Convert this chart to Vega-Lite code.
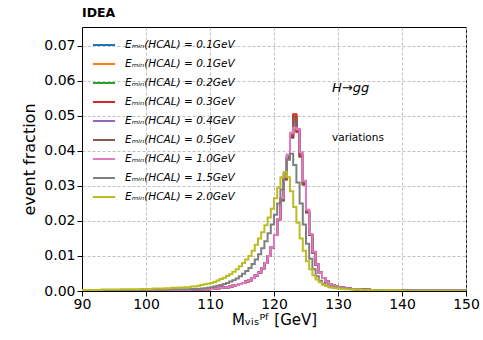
{
  "$schema": "https://vega.github.io/schema/vega-lite/v6.json",
  "width": 384,
  "height": 264,
  "autosize": "none",
  "padding": {"left": 82, "top": 27, "right": 17, "bottom": 49},
  "title": {"text": "IDEA", "anchor": "start", "frame": "group", "fontSize": 12.5, "fontWeight": "bold", "font": "DejaVu Sans", "color": "black", "offset": 8},
  "config": {
    "font": "DejaVu Sans",
    "view": {"stroke": "black", "strokeWidth": 1}
  },
  "encoding": {
    "x": {"field": "x", "type": "quantitative",
      "scale": {"domain": [90, 150], "nice": false, "zero": false},
      "axis": {"values": [90,100,110,120,130,140,150], "title": "Mᵥᵢₛᴾᶠ [GeV]", "titlePadding": 1,
        "labelFontSize": 14, "titleFontSize": 15, "labelColor": "black", "titleColor": "black",
        "titleFontWeight": "normal", "tickColor": "black", "domainColor": "black", "tickSize": 5,
        "labelPadding": 1, "labelOverlap": false, "labelFlush": false, "grid": true, "gridColor": "#b0b0b0", "gridDash": [3, 2], "gridWidth": 0.8}},
    "y": {"field": "v", "type": "quantitative",
      "scale": {"domain": [0, 0.0754], "nice": false},
      "axis": {"values": [0,0.01,0.02,0.03,0.04,0.05,0.06,0.07], "format": ".2f", "title": "event fraction", "titlePadding": 6,
        "labelFontSize": 14, "titleFontSize": 16, "labelColor": "black", "titleColor": "black",
        "titleFontWeight": "normal", "tickColor": "black", "domainColor": "black", "tickSize": 5,
        "labelPadding": 2, "labelOverlap": false, "labelFlush": false, "grid": true, "gridColor": "#b0b0b0", "gridDash": [3, 2], "gridWidth": 0.8}}
  },
  "layer": [
    {
      "data": {"values": [
        {"x":90,"a":0.0001,"b":0.0001,"c":0.0001,"d":0.0001,"e":0.0001,"f":0.0001,"g":0.0001,"h":0.0002,"i":0.0003},
        {"x":91,"a":0.0001,"b":0.0001,"c":0.0001,"d":0.0001,"e":0.0001,"f":0.0001,"g":0.0001,"h":0.0002,"i":0.0003},
        {"x":92,"a":0.0001,"b":0.0001,"c":0.0001,"d":0.0001,"e":0.0001,"f":0.0001,"g":0.0001,"h":0.0002,"i":0.0003},
        {"x":93,"a":0.0001,"b":0.0001,"c":0.0001,"d":0.0001,"e":0.0001,"f":0.0001,"g":0.0001,"h":0.0002,"i":0.0004},
        {"x":94,"a":0.0001,"b":0.0001,"c":0.0001,"d":0.0001,"e":0.0001,"f":0.0001,"g":0.0001,"h":0.0003,"i":0.0004},
        {"x":95,"a":0.0001,"b":0.0001,"c":0.0001,"d":0.0001,"e":0.0001,"f":0.0001,"g":0.0001,"h":0.0003,"i":0.0004},
        {"x":96,"a":0.0001,"b":0.0001,"c":0.0001,"d":0.0001,"e":0.0001,"f":0.0001,"g":0.0001,"h":0.0003,"i":0.0005},
        {"x":97,"a":0.0001,"b":0.0001,"c":0.0001,"d":0.0001,"e":0.0001,"f":0.0001,"g":0.0001,"h":0.0003,"i":0.0005},
        {"x":98,"a":0.0002,"b":0.0002,"c":0.0002,"d":0.0002,"e":0.0002,"f":0.0002,"g":0.0002,"h":0.0003,"i":0.0005},
        {"x":99,"a":0.0002,"b":0.0002,"c":0.0002,"d":0.0002,"e":0.0002,"f":0.0002,"g":0.0002,"h":0.0003,"i":0.0006},
        {"x":100,"a":0.0002,"b":0.0002,"c":0.0002,"d":0.0002,"e":0.0002,"f":0.0002,"g":0.0002,"h":0.0004,"i":0.0006},
        {"x":101,"a":0.0002,"b":0.0002,"c":0.0002,"d":0.0002,"e":0.0002,"f":0.0002,"g":0.0002,"h":0.0004,"i":0.0007},
        {"x":102,"a":0.0002,"b":0.0002,"c":0.0002,"d":0.0002,"e":0.0002,"f":0.0002,"g":0.0002,"h":0.0004,"i":0.0007},
        {"x":103,"a":0.0002,"b":0.0002,"c":0.0002,"d":0.0002,"e":0.0002,"f":0.0002,"g":0.0002,"h":0.0004,"i":0.0008},
        {"x":104,"a":0.0003,"b":0.0003,"c":0.0003,"d":0.0003,"e":0.0003,"f":0.0003,"g":0.0003,"h":0.0005,"i":0.0009},
        {"x":105,"a":0.0003,"b":0.0003,"c":0.0003,"d":0.0003,"e":0.0003,"f":0.0003,"g":0.0003,"h":0.0005,"i":0.0010},
        {"x":106,"a":0.0003,"b":0.0003,"c":0.0003,"d":0.0003,"e":0.0003,"f":0.0003,"g":0.0003,"h":0.0005,"i":0.0011},
        {"x":107,"a":0.0004,"b":0.0004,"c":0.0004,"d":0.0004,"e":0.0004,"f":0.0004,"g":0.0004,"h":0.0006,"i":0.0013},
        {"x":108,"a":0.0004,"b":0.0004,"c":0.0004,"d":0.0004,"e":0.0004,"f":0.0004,"g":0.0004,"h":0.0006,"i":0.0015},
        {"x":108.5,"a":0.0004,"b":0.0004,"c":0.0004,"d":0.0004,"e":0.0004,"f":0.0004,"g":0.0004,"h":0.0007,"i":0.0017},
        {"x":109,"a":0.0005,"b":0.0005,"c":0.0005,"d":0.0005,"e":0.0005,"f":0.0005,"g":0.0005,"h":0.0008,"i":0.0019},
        {"x":109.5,"a":0.0005,"b":0.0005,"c":0.0005,"d":0.0005,"e":0.0005,"f":0.0005,"g":0.0005,"h":0.0009,"i":0.0021},
        {"x":110,"a":0.0006,"b":0.0006,"c":0.0006,"d":0.0006,"e":0.0006,"f":0.0006,"g":0.0006,"h":0.0011,"i":0.0023},
        {"x":110.5,"a":0.0007,"b":0.0007,"c":0.0007,"d":0.0007,"e":0.0007,"f":0.0007,"g":0.0007,"h":0.0013,"i":0.0026},
        {"x":111,"a":0.0008,"b":0.0008,"c":0.0008,"d":0.0008,"e":0.0008,"f":0.0008,"g":0.0008,"h":0.0015,"i":0.0030},
        {"x":111.5,"a":0.0009,"b":0.0009,"c":0.0009,"d":0.0009,"e":0.0009,"f":0.0009,"g":0.0009,"h":0.0017,"i":0.0034},
        {"x":112,"a":0.0010,"b":0.0010,"c":0.0010,"d":0.0010,"e":0.0010,"f":0.0010,"g":0.0010,"h":0.0020,"i":0.0038},
        {"x":112.5,"a":0.0011,"b":0.0011,"c":0.0011,"d":0.0011,"e":0.0011,"f":0.0011,"g":0.0011,"h":0.0023,"i":0.0043},
        {"x":113,"a":0.0013,"b":0.0013,"c":0.0013,"d":0.0013,"e":0.0013,"f":0.0013,"g":0.0013,"h":0.0027,"i":0.0048},
        {"x":113.5,"a":0.0015,"b":0.0015,"c":0.0015,"d":0.0015,"e":0.0015,"f":0.0015,"g":0.0015,"h":0.0031,"i":0.0055},
        {"x":114,"a":0.0017,"b":0.0017,"c":0.0017,"d":0.0017,"e":0.0017,"f":0.0017,"g":0.0017,"h":0.0036,"i":0.0062},
        {"x":114.5,"a":0.0020,"b":0.0020,"c":0.0020,"d":0.0020,"e":0.0020,"f":0.0020,"g":0.0020,"h":0.0042,"i":0.0071},
        {"x":115,"a":0.0023,"b":0.0023,"c":0.0023,"d":0.0023,"e":0.0023,"f":0.0023,"g":0.0023,"h":0.0049,"i":0.0080},
        {"x":115.5,"a":0.0027,"b":0.0027,"c":0.0027,"d":0.0027,"e":0.0027,"f":0.0027,"g":0.0027,"h":0.0057,"i":0.0090},
        {"x":116,"a":0.0031,"b":0.0031,"c":0.0031,"d":0.0031,"e":0.0031,"f":0.0031,"g":0.0031,"h":0.0066,"i":0.0100},
        {"x":116.5,"a":0.0037,"b":0.0037,"c":0.0037,"d":0.0037,"e":0.0037,"f":0.0037,"g":0.0037,"h":0.0077,"i":0.0115},
        {"x":117,"a":0.0044,"b":0.0044,"c":0.0044,"d":0.0044,"e":0.0044,"f":0.0044,"g":0.0044,"h":0.0090,"i":0.0132},
        {"x":117.5,"a":0.0053,"b":0.0053,"c":0.0053,"d":0.0053,"e":0.0053,"f":0.0053,"g":0.0053,"h":0.0105,"i":0.0150},
        {"x":118,"a":0.0065,"b":0.0065,"c":0.0065,"d":0.0065,"e":0.0065,"f":0.0065,"g":0.0065,"h":0.0122,"i":0.0168},
        {"x":118.5,"a":0.0080,"b":0.0080,"c":0.0080,"d":0.0080,"e":0.0080,"f":0.0080,"g":0.0080,"h":0.0142,"i":0.0188},
        {"x":119,"a":0.0100,"b":0.0100,"c":0.0100,"d":0.0100,"e":0.0100,"f":0.0100,"g":0.0100,"h":0.0165,"i":0.0210},
        {"x":119.5,"a":0.0125,"b":0.0125,"c":0.0125,"d":0.0125,"e":0.0125,"f":0.0125,"g":0.0125,"h":0.0190,"i":0.0235},
        {"x":120,"a":0.0160,"b":0.0160,"c":0.0160,"d":0.0160,"e":0.0160,"f":0.0160,"g":0.0160,"h":0.0218,"i":0.0265},
        {"x":120.5,"a":0.0205,"b":0.0205,"c":0.0205,"d":0.0205,"e":0.0205,"f":0.0205,"g":0.0205,"h":0.0250,"i":0.0295},
        {"x":121,"a":0.0260,"b":0.0260,"c":0.0258,"d":0.0260,"e":0.0262,"f":0.0261,"g":0.0265,"h":0.0290,"i":0.0325},
        {"x":121.5,"a":0.0320,"b":0.0321,"c":0.0318,"d":0.0320,"e":0.0325,"f":0.0322,"g":0.0328,"h":0.0335,"i":0.0340},
        {"x":122,"a":0.0378,"b":0.0379,"c":0.0381,"d":0.0380,"e":0.0385,"f":0.0382,"g":0.0390,"h":0.0375,"i":0.0325},
        {"x":122.5,"a":0.0438,"b":0.0441,"c":0.0442,"d":0.0440,"e":0.0450,"f":0.0445,"g":0.0452,"h":0.0392,"i":0.0285},
        {"x":123,"a":0.0498,"b":0.0500,"c":0.0497,"d":0.0505,"e":0.0482,"f":0.0490,"g":0.0466,"h":0.0360,"i":0.0240},
        {"x":123.5,"a":0.0458,"b":0.0455,"c":0.0457,"d":0.0455,"e":0.0462,"f":0.0460,"g":0.0462,"h":0.0310,"i":0.0195},
        {"x":124,"a":0.0385,"b":0.0386,"c":0.0384,"d":0.0385,"e":0.0390,"f":0.0388,"g":0.0396,"h":0.0250,"i":0.0150},
        {"x":124.5,"a":0.0305,"b":0.0306,"c":0.0304,"d":0.0305,"e":0.0310,"f":0.0308,"g":0.0315,"h":0.0190,"i":0.0115},
        {"x":125,"a":0.0225,"b":0.0225,"c":0.0225,"d":0.0225,"e":0.0228,"f":0.0226,"g":0.0232,"h":0.0135,"i":0.0085},
        {"x":125.5,"a":0.0160,"b":0.0160,"c":0.0160,"d":0.0160,"e":0.0160,"f":0.0160,"g":0.0163,"h":0.0092,"i":0.0062},
        {"x":126,"a":0.0110,"b":0.0110,"c":0.0110,"d":0.0110,"e":0.0110,"f":0.0110,"g":0.0112,"h":0.0062,"i":0.0045},
        {"x":126.5,"a":0.0075,"b":0.0075,"c":0.0075,"d":0.0075,"e":0.0075,"f":0.0075,"g":0.0076,"h":0.0042,"i":0.0033},
        {"x":127,"a":0.0052,"b":0.0052,"c":0.0052,"d":0.0052,"e":0.0052,"f":0.0052,"g":0.0052,"h":0.0029,"i":0.0025},
        {"x":127.5,"a":0.0037,"b":0.0037,"c":0.0037,"d":0.0037,"e":0.0037,"f":0.0037,"g":0.0037,"h":0.0021,"i":0.0018},
        {"x":128,"a":0.0027,"b":0.0027,"c":0.0027,"d":0.0027,"e":0.0027,"f":0.0027,"g":0.0027,"h":0.0016,"i":0.0014},
        {"x":128.5,"a":0.0020,"b":0.0020,"c":0.0020,"d":0.0020,"e":0.0020,"f":0.0020,"g":0.0020,"h":0.0013,"i":0.0011},
        {"x":129,"a":0.0015,"b":0.0015,"c":0.0015,"d":0.0015,"e":0.0015,"f":0.0015,"g":0.0015,"h":0.0011,"i":0.0009},
        {"x":129.5,"a":0.0012,"b":0.0012,"c":0.0012,"d":0.0012,"e":0.0012,"f":0.0012,"g":0.0012,"h":0.0009,"i":0.0008},
        {"x":130,"a":0.0010,"b":0.0010,"c":0.0010,"d":0.0010,"e":0.0010,"f":0.0010,"g":0.0010,"h":0.0008,"i":0.0007},
        {"x":130.5,"a":0.0009,"b":0.0009,"c":0.0009,"d":0.0009,"e":0.0009,"f":0.0009,"g":0.0009,"h":0.0007,"i":0.0006},
        {"x":131,"a":0.0008,"b":0.0008,"c":0.0008,"d":0.0008,"e":0.0008,"f":0.0008,"g":0.0008,"h":0.0006,"i":0.0005},
        {"x":131.5,"a":0.0007,"b":0.0007,"c":0.0007,"d":0.0007,"e":0.0007,"f":0.0007,"g":0.0007,"h":0.0006,"i":0.0005},
        {"x":132,"a":0.0006,"b":0.0006,"c":0.0006,"d":0.0006,"e":0.0006,"f":0.0006,"g":0.0006,"h":0.0005,"i":0.0004},
        {"x":132.5,"a":0.0005,"b":0.0005,"c":0.0005,"d":0.0005,"e":0.0005,"f":0.0005,"g":0.0005,"h":0.0005,"i":0.0004},
        {"x":133,"a":0.0005,"b":0.0005,"c":0.0005,"d":0.0005,"e":0.0005,"f":0.0005,"g":0.0005,"h":0.0004,"i":0.0004},
        {"x":133.5,"a":0.0004,"b":0.0004,"c":0.0004,"d":0.0004,"e":0.0004,"f":0.0004,"g":0.0004,"h":0.0004,"i":0.0003},
        {"x":134,"a":0.0004,"b":0.0004,"c":0.0004,"d":0.0004,"e":0.0004,"f":0.0004,"g":0.0004,"h":0.0004,"i":0.0003},
        {"x":134.5,"a":0.0004,"b":0.0004,"c":0.0004,"d":0.0004,"e":0.0004,"f":0.0004,"g":0.0004,"h":0.0003,"i":0.0003},
        {"x":135,"a":0.0003,"b":0.0003,"c":0.0003,"d":0.0003,"e":0.0003,"f":0.0003,"g":0.0003,"h":0.0003,"i":0.0003},
        {"x":135.5,"a":0.0003,"b":0.0003,"c":0.0003,"d":0.0003,"e":0.0003,"f":0.0003,"g":0.0003,"h":0.0003,"i":0.0002},
        {"x":136,"a":0.0003,"b":0.0003,"c":0.0003,"d":0.0003,"e":0.0003,"f":0.0003,"g":0.0003,"h":0.0003,"i":0.0002},
        {"x":137,"a":0.0003,"b":0.0003,"c":0.0003,"d":0.0003,"e":0.0003,"f":0.0003,"g":0.0003,"h":0.0002,"i":0.0002},
        {"x":138,"a":0.0002,"b":0.0002,"c":0.0002,"d":0.0002,"e":0.0002,"f":0.0002,"g":0.0002,"h":0.0002,"i":0.0002},
        {"x":139,"a":0.0002,"b":0.0002,"c":0.0002,"d":0.0002,"e":0.0002,"f":0.0002,"g":0.0002,"h":0.0002,"i":0.0002},
        {"x":140,"a":0.0002,"b":0.0002,"c":0.0002,"d":0.0002,"e":0.0002,"f":0.0002,"g":0.0002,"h":0.0002,"i":0.0001},
        {"x":141,"a":0.0001,"b":0.0001,"c":0.0001,"d":0.0001,"e":0.0001,"f":0.0001,"g":0.0001,"h":0.0001,"i":0.0001},
        {"x":143,"a":0.0001,"b":0.0001,"c":0.0001,"d":0.0001,"e":0.0001,"f":0.0001,"g":0.0001,"h":0.0001,"i":0.0001},
        {"x":146,"a":0.0001,"b":0.0001,"c":0.0001,"d":0.0001,"e":0.0001,"f":0.0001,"g":0.0001,"h":0.0001,"i":0.0001},
        {"x":150,"a":0.0001,"b":0.0001,"c":0.0001,"d":0.0001,"e":0.0001,"f":0.0001,"g":0.0001,"h":0.0001,"i":0.0001}
      ]},
      "transform": [{"fold": ["a","b","c","d","e","f","g","h","i"], "as": ["k","v"]}],
      "mark": {"type": "line", "interpolate": "step-after", "strokeWidth": 2, "clip": true},
      "encoding": {
        "color": {"field": "k", "type": "nominal",
          "scale": {"domain": ["a","b","c","d","e","f","g","h","i"],
            "range": ["#1f77b4","#ff7f0e","#2ca02c","#d62728","#9467bd","#8c564b","#e377c2","#7f7f7f","#bcbd22"]},
          "legend": {"orient": "none", "legendX": 10, "legendY": 6, "title": null, "symbolType": "stroke",
            "symbolSize": 484, "symbolStrokeWidth": 2, "labelFontSize": 10.5, "labelFontStyle": "italic",
            "labelColor": "black", "labelOffset": 9, "rowPadding": 1, "padding": 0,
            "labelExpr": "['Eₘᵢₙ(HCAL) = 0.1GeV','Eₘᵢₙ(HCAL) = 0.1GeV','Eₘᵢₙ(HCAL) = 0.2GeV','Eₘᵢₙ(HCAL) = 0.3GeV','Eₘᵢₙ(HCAL) = 0.4GeV','Eₘᵢₙ(HCAL) = 0.5GeV','Eₘᵢₙ(HCAL) = 1.0GeV','Eₘᵢₙ(HCAL) = 1.5GeV','Eₘᵢₙ(HCAL) = 2.0GeV'][indexof('abcdefghi', datum.value)]"}}
      }
    },
    {
      "data": {"values": [{"x": 129.06, "v": 0.058, "t": "H→gg"}]},
      "mark": {"type": "text", "align": "left", "baseline": "middle", "fontSize": 13, "fontStyle": "italic", "color": "black"},
      "encoding": {"text": {"field": "t"}}
    },
    {
      "data": {"values": [{"x": 129.06, "v": 0.0437, "t": "variations"}]},
      "mark": {"type": "text", "align": "left", "baseline": "middle", "fontSize": 10.5, "color": "black"},
      "encoding": {"text": {"field": "t"}}
    }
  ]
}
